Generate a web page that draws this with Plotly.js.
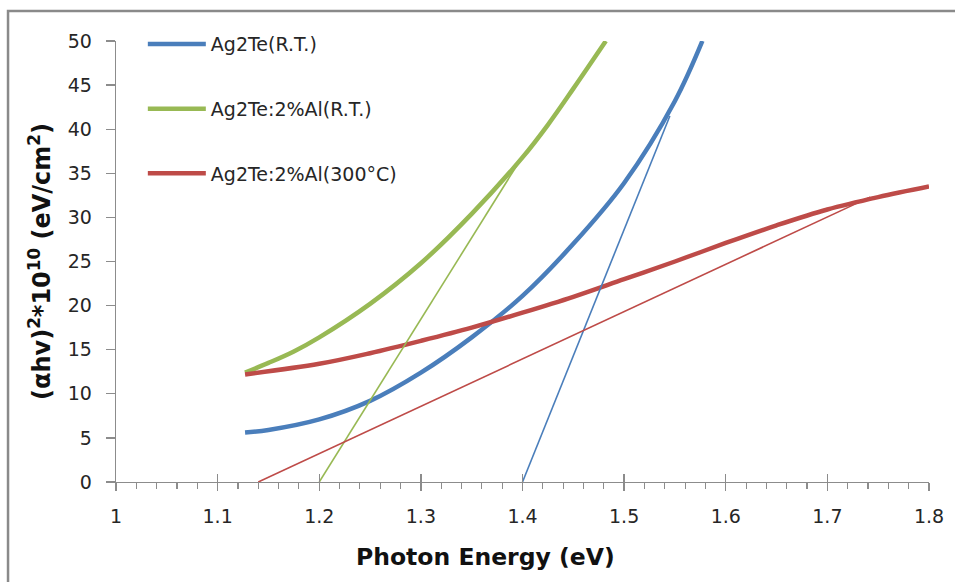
<!DOCTYPE html>
<html>
<head>
<meta charset="utf-8">
<script src="https://cdn.plot.ly/plotly-3.0.1.min.js"></script>
<style>
html,body{margin:0;padding:0;background:#fff;}
#chart{width:955px;height:582px;}
</style>
</head>
<body>
<div id="chart"></div>
<script>
// Series names
const seriesNames = ["Ag2Te(R.T.)", "Ag2Te:2%Al(R.T.)", "Ag2Te:2%Al(300°C)"];

// Ag2Te (R.T.) curve
const blueX = [1.127, 1.15, 1.2, 1.25, 1.3, 1.35, 1.4, 1.45, 1.5, 1.55, 1.577];
const blueY = [5.6, 5.9, 7.1, 9.2, 12.4, 16.4, 21.1, 27.0, 33.9, 43.2, 50];

// Ag2Te:2%Al (R.T.) curve
const greenX = [1.127, 1.15, 1.175, 1.2, 1.25, 1.3, 1.35, 1.4, 1.425, 1.45, 1.482];
const greenY = [12.4, 13.5, 14.8, 16.4, 20.2, 24.8, 30.4, 36.8, 40.5, 44.6, 50];

// Ag2Te:2%Al (300°C) curve
const redX = [1.127, 1.2, 1.25, 1.3, 1.35, 1.4, 1.45, 1.5, 1.55, 1.6, 1.65, 1.7, 1.75, 1.8];
const redY = [12.2, 13.4, 14.6, 16.0, 17.5, 19.2, 21.0, 23.0, 25.0, 27.1, 29.1, 30.9, 32.3, 33.5];

// Linear extrapolation (tangent) lines
const blueFitX = [1.4, 1.545];
const blueFitY = [0, 41.5];
const greenFitX = [1.2, 1.395];
const greenFitY = [0, 36];
const redFitX = [1.14, 1.742];
const redFitY = [0, 32.3];

// Axis ticks and titles
const xTicks = [1, 1.1, 1.2, 1.3, 1.4, 1.5, 1.6, 1.7, 1.8];
const xTickText = ["1", "1.1", "1.2", "1.3", "1.4", "1.5", "1.6", "1.7", "1.8"];
const yTicks = [0, 5, 10, 15, 20, 25, 30, 35, 40, 45, 50];
const xTitle = "Photon Energy (eV)";
const yTitle = "(αhv)<sup>2</sup>*10<sup>10</sup> (eV/cm<sup>2</sup>)";

const BLUE = "#4A7EBB", GREEN = "#98B954", RED = "#BE4B48";
const FONT = "'DejaVu Sans', Verdana, sans-serif";

const traces = [
  {x: blueX, y: blueY, name: seriesNames[0], mode: "lines", legendgroup: "a",
   line: {color: BLUE, width: 4.5, shape: "spline", smoothing: 1}},
  {x: greenX, y: greenY, name: seriesNames[1], mode: "lines", legendgroup: "b",
   line: {color: GREEN, width: 4.5, shape: "spline", smoothing: 1}},
  {x: redX, y: redY, name: seriesNames[2], mode: "lines", legendgroup: "c",
   line: {color: RED, width: 4.5, shape: "spline", smoothing: 1}},
  {x: blueFitX, y: blueFitY, mode: "lines", showlegend: false,
   line: {color: BLUE, width: 1.6}},
  {x: greenFitX, y: greenFitY, mode: "lines", showlegend: false,
   line: {color: GREEN, width: 1.6}},
  {x: redFitX, y: redFitY, mode: "lines", showlegend: false,
   line: {color: RED, width: 1.6}}
];

const layout = {
  width: 955, height: 582,
  margin: {l: 116, r: 26, t: 41, b: 100},
  paper_bgcolor: "#fff", plot_bgcolor: "#fff",
  font: {family: FONT, color: "#262626", size: 19},
  showlegend: true,
  legend: {
    x: 0.033, y: 1.036, xanchor: "left", yanchor: "top",
    bgcolor: "rgba(0,0,0,0)", traceorder: "grouped", tracegroupgap: 37,
    itemwidth: 58,
    font: {family: FONT, size: 19, color: "#262626"}
  },
  xaxis: {
    range: [1, 1.8], tickvals: xTicks, ticktext: xTickText,
    showgrid: false, zeroline: false,
    showline: true, linecolor: "#8c8c8c", linewidth: 1.3,
    ticks: "outside", ticklen: 8, tickcolor: "#8c8c8c", tickwidth: 1.3,
    minor: {dtick: 0.02, ticks: "outside", ticklen: 6, tickcolor: "#8c8c8c", tickwidth: 1.1, showgrid: false},
    tickfont: {family: FONT, size: 19, color: "#262626"},
    ticklabelstandoff: 9,
    automargin: false
  },
  xaxis2: {
    overlaying: "x", matches: "x", anchor: "y", range: [1, 1.8], tickvals: xTicks,
    showticklabels: false, showgrid: false, zeroline: false, showline: false,
    ticks: "inside", ticklen: 8, tickcolor: "#8c8c8c", tickwidth: 1.3
  },
  yaxis: {
    range: [0, 50], tickvals: yTicks,
    showgrid: false, zeroline: false,
    showline: true, linecolor: "#8c8c8c", linewidth: 1.3,
    ticks: "outside", ticklen: 9, tickcolor: "#8c8c8c", tickwidth: 1.3,
    tickfont: {family: FONT, size: 19, color: "#262626"},
    ticklabelstandoff: 10,
    title: {text: "<b>" + yTitle + "</b>", font: {family: FONT, size: 24, color: "#111"}, standoff: 10},
    automargin: false
  },
  annotations: [
    {text: "<b>" + xTitle + "</b>", xref: "paper", yref: "paper",
     x: 0.455, y: -0.170, xanchor: "center", yanchor: "middle", showarrow: false,
     font: {family: FONT, size: 23.5, color: "#111"}}
  ],
  shapes: [
    {type: "rect", xref: "paper", yref: "paper",
     x0: -0.1328, x1: 1.2, y0: -0.4, y1: 1.068,
     line: {color: "#8a8a8a", width: 2.5}, fillcolor: "rgba(0,0,0,0)", layer: "below"}
  ]
};

// invisible trace so the overlay axis (inner half of the crossing ticks) is drawn
traces.push({x: [1], y: [0], xaxis: "x2", yaxis: "y", mode: "lines", showlegend: false, hoverinfo: "skip", line: {width: 0}});

Plotly.newPlot("chart", traces, layout, {displayModeBar: false, staticPlot: true});
</script>
</body>
</html>
